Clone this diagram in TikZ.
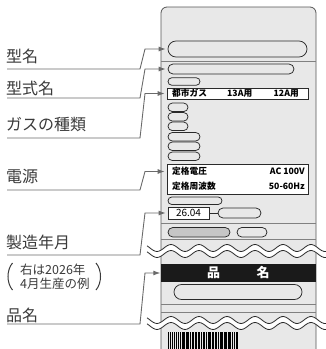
\documentclass[tikz,border=0pt]{standalone}
\usepackage{fontspec}
\setmainfont{Noto Sans CJK JP}
\usetikzlibrary{arrows.meta,shapes.misc}
\definecolor{labelc}{HTML}{3A3A3A}
\definecolor{connc}{HTML}{6A6A6A}
\definecolor{panelfill}{HTML}{E8E8E8}
\definecolor{panelline}{HTML}{555555}
\definecolor{sepc}{HTML}{808080}
\definecolor{ovalc}{HTML}{2A2A2A}
\definecolor{grayoval}{HTML}{C6C6C6}
\definecolor{bandc}{HTML}{1A1A1A}
\newcommand\wavepair[1]{%
  \fill[white] plot[domain=147:326,samples=90,smooth] (\x,{#1-3-3.5*cos((\x-171)*12.857)}) -- plot[domain=326:147,samples=90,smooth] (\x,{#1+3-3.5*cos((\x-171)*12.857)}) -- cycle;
  \draw[waveline] plot[domain=147:326,samples=90,smooth] (\x,{#1-3-3.5*cos((\x-171)*12.857)});
  \draw[waveline] plot[domain=147:326,samples=90,smooth] (\x,{#1+3-3.5*cos((\x-171)*12.857)});
}
\begin{document}
\begin{tikzpicture}[x=1pt,y=-1pt,
  lbl/.style={anchor=west,inner sep=0pt,text=labelc,font=\fontsize{16}{18}\selectfont},
  smalllbl/.style={anchor=west,inner sep=0pt,text=labelc,font=\fontsize{12.5}{14}\selectfont},
  conn/.style={draw=connc,line width=0.9pt,-{Latex[length=7pt,width=5pt]},shorten >=2pt},
  oval/.style={rounded rectangle,draw=ovalc,line width=0.75pt,inner sep=0pt},
  whitebox/.style={rectangle,draw=ovalc,fill=white,line width=0.75pt,inner sep=0pt},
  ptext/.style={inner sep=0pt,text=black,font=\fontsize{8.7}{10}\selectfont\bfseries},
  sepline/.style={draw=sepc,line width=0.7pt},
  waveline/.style={draw=ovalc,line width=0.8pt}]
\useasboundingbox (0,0) rectangle (326,349);
% panel
\path[fill=panelfill,draw=panelline,line width=0.8pt,rounded corners=6pt]
  (161,349) -- (161,7) -- (316,7) -- (316,349);
% separator lines
\draw[sepline] (161,61) -- (316,61);
\draw[sepline] (161,223) -- (316,223);
\draw[sepline] (161,239.5) -- (316,239.5);
\draw[sepline] (161,304) -- (316,304);
\draw[sepline] (161,312.5) -- (316,312.5);
% top part
\node[oval,minimum width=139pt,minimum height=16pt] (b1) at (237.5,49) {};
\node[oval,minimum width=126pt,minimum height=10pt] (b2) at (231,69) {};
\node[oval,minimum width=32pt,minimum height=7.5pt] (b3) at (184,81.5) {};
\node[whitebox,minimum width=141pt,minimum height=11pt] (gas) at (237.5,93.5) {};
\node[ptext,anchor=west] (g1t) at (172,93.5) {都市ガス};
\node[ptext,anchor=west] (g2t) at (227,93.5) {13A用};
\node[ptext,anchor=west] (g3t) at (273.5,93.5) {12A用};
\node[oval,minimum width=20pt,minimum height=8.5pt] (n1) at (178,107.3) {};
\node[oval,minimum width=20pt,minimum height=8.5pt] (n2) at (178,116.8) {};
\node[oval,minimum width=20pt,minimum height=8.5pt] (n3) at (178,126.3) {};
\node[oval,minimum width=32pt,minimum height=8.5pt] (w1) at (184,136.75) {};
\node[oval,minimum width=32pt,minimum height=8.5pt] (w2) at (184,146.25) {};
\node[oval,minimum width=32pt,minimum height=8.5pt] (w3) at (184,156.25) {};
\node[whitebox,minimum width=141pt,minimum height=30pt] (pw) at (237.5,179) {};
\node[ptext,anchor=west] (v1) at (172,171.5) {定格電圧};
\node[ptext,anchor=east] (v2) at (305,171.5) {AC 100V};
\node[ptext,anchor=west] (f1) at (172,186) {定格周波数};
\node[ptext,anchor=east] (f2) at (305,186) {50-60Hz};
\node[oval,minimum width=54pt,minimum height=7.5pt] (o8) at (195,200.75) {};
\node[whitebox,minimum width=41pt,minimum height=12pt,font=\fontsize{10}{11}\selectfont] (d) at (188.5,213) {26.04};
\node[oval,minimum width=43pt,minimum height=10pt] (o9) at (239.5,213) {};
\draw[draw=ovalc,line width=0.8pt] (d.east) -- (o9.west);
\node[oval,fill=grayoval,minimum width=62pt,minimum height=9.5pt] (gr1) at (199,232.25) {};
\node[oval,minimum width=30pt,minimum height=9.5pt] (gr2) at (252,232.25) {};
% first break
\wavepair{251}
% name band
\node[fill=bandc,minimum width=155pt,minimum height=18pt,inner sep=0pt] (band) at (238.5,273) {};
\node[inner sep=0pt,text=white,font=\fontsize{13}{14}\selectfont\bfseries] (hin) at (213.5,273) {品};
\node[inner sep=0pt,text=white,font=\fontsize{13}{14}\selectfont\bfseries] (mei) at (263,273) {名};
\node[oval,minimum width=128pt,minimum height=15pt] (o10) at (238,292) {};
% second break
\wavepair{323}
% barcode
\foreach \bx/\bw in {168/1.2,170.2/0.6,171.8/1.6,174.4/0.6,175.8/0.8,177.6/1.8,180.4/0.6,181.8/0.6,183.2/1.4,185.6/0.7,187.3/2.0,190.2/0.6,191.6/1.0,193.4/0.6,194.8/1.8,197.6/0.7,199.2/1.2,201.4/0.6,202.8/2.2,206/0.7,207.6/0.7,209.2/1.6,211.8/0.6,213.2/1.0,215.2/2.0,218.2/0.6,219.6/0.8,221.4/1.6,224/0.6,225.4/1.2,227.6/0.7,229.2/2.0,232.2/0.6,233.6/1.0,235.6/0.7,237.2/0.8}
  \fill[black] (\bx,332) rectangle ++(\bw,17);
% left labels
\node[lbl] (l1) at (6,56.5) {型名};
\node[lbl] (l2) at (6,88.5) {型式名};
\node[lbl] (l3) at (6,125) {ガスの種類};
\node[lbl] (l4) at (6,176.5) {電源};
\node[lbl] (l5) at (6,242.5) {製造年月};
\node[smalllbl] (p1) at (20,270) {右は2026年};
\node[smalllbl] (p2) at (20,283.5) {4月生産の例};
\node[lbl] (l6) at (6,315.5) {品名};
% parentheses
\draw[draw=labelc,line width=1pt] (12.5,263) .. controls (6.5,270) and (6.5,283) .. (12.5,290);
\draw[draw=labelc,line width=1pt] (96,263) .. controls (102,270) and (102,283) .. (96,290);
% connectors
\coordinate (s1) at (7,69);
\coordinate (s2) at (7,98);
\coordinate (s3) at (7,138);
\coordinate (s4) at (7,190);
\coordinate (s5) at (7,255);
\coordinate (s6) at (7,324);
\draw[conn] (s1) -- ++(133,0) -- (145,49) -- (b1.west);
\draw[conn] (s2) -- ++(133,0) -- (145,69) -- (b2.west);
\draw[conn] (s3) -- ++(133,0) -- (145,93.5) -- (gas.west);
\draw[conn] (s4) -- ++(133,0) -- (145,171.5) -- (pw.west |- v1.center);
\draw[conn] (s5) -- ++(133,0) -- (145,213) -- (d.west);
\draw[conn,shorten >=0.5pt] (s6) -- ++(133,0) -- (145,273) -- (band.west);
\end{tikzpicture}
\end{document}
